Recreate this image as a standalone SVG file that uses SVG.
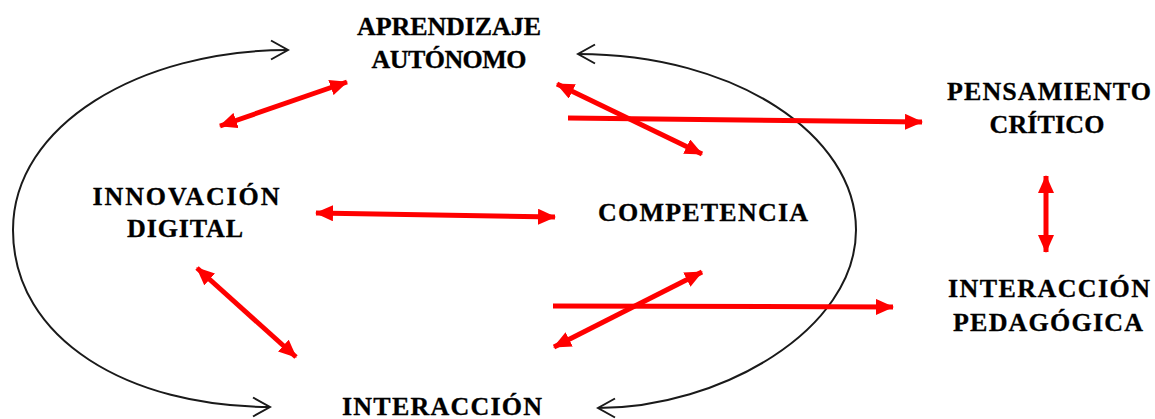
<svg xmlns="http://www.w3.org/2000/svg" width="1155" height="419" viewBox="0 0 1155 419">
<style>
.lbl{font-family:"Liberation Serif","Times New Roman",serif;font-weight:bold;font-size:26px;fill:#000;stroke:#000;stroke-width:0.3;text-anchor:middle}
.blk{fill:none;stroke:#1a1a1a;stroke-width:2}
.red{fill:none;stroke:#ff0000;stroke-width:5}
</style>
<defs>
<marker id="chev" markerUnits="userSpaceOnUse" markerWidth="20" markerHeight="22" refX="18" refY="10.5" orient="auto-start-reverse" viewBox="0 0 20 21">
<path d="M1,1 L18,10.5 L1,20" fill="none" stroke="#1a1a1a" stroke-width="2"/>
</marker>
<marker id="rh" markerUnits="userSpaceOnUse" markerWidth="18" markerHeight="16" refX="17" refY="8" orient="auto-start-reverse" viewBox="0 0 18 16">
<path d="M0,0 L18,8 L0,16 z" fill="#ff0000"/>
</marker>
</defs>
<rect width="1155" height="419" fill="#fff"/>
<g id="connectors">
<path class="blk" d="M288,50 C140,50 13,125 13,230 C13,340 130,407 270,407" marker-start="url(#chev)" marker-end="url(#chev)"/>
<path class="blk" d="M578,54 C735,54 856,135 856,230 C856,330 720,408 598,408" marker-start="url(#chev)" marker-end="url(#chev)"/>
<line class="red" x1="220" y1="126" x2="347" y2="82" marker-start="url(#rh)" marker-end="url(#rh)"/>
<line class="red" x1="557" y1="84" x2="702" y2="154" marker-start="url(#rh)" marker-end="url(#rh)"/>
<line class="red" x1="568" y1="118" x2="922" y2="122" marker-end="url(#rh)"/>
<line class="red" x1="316" y1="213" x2="555" y2="217" marker-start="url(#rh)" marker-end="url(#rh)"/>
<line class="red" x1="197" y1="268" x2="296" y2="357" marker-start="url(#rh)" marker-end="url(#rh)"/>
<line class="red" x1="553" y1="306" x2="893" y2="307" marker-end="url(#rh)"/>
<line class="red" x1="554" y1="347" x2="702" y2="272" marker-start="url(#rh)" marker-end="url(#rh)"/>
<line class="red" x1="1046" y1="176" x2="1046" y2="252" marker-start="url(#rh)" marker-end="url(#rh)"/>
</g>
<g id="node-aprendizaje">
<text class="lbl" x="449" y="35" textLength="184" lengthAdjust="spacing">APRENDIZAJE</text>
<text class="lbl" x="449" y="68" textLength="155" lengthAdjust="spacing">AUTÓNOMO</text>
</g>
<g id="node-innovacion">
<text class="lbl" x="186" y="205" textLength="187" lengthAdjust="spacing">INNOVACIÓN</text>
<text class="lbl" x="185" y="237" textLength="116" lengthAdjust="spacing">DIGITAL</text>
</g>
<g id="node-competencia">
<text class="lbl" x="703" y="221" textLength="210" lengthAdjust="spacing">COMPETENCIA</text>
</g>
<g id="node-pensamiento">
<text class="lbl" x="1049" y="100" textLength="204" lengthAdjust="spacing">PENSAMIENTO</text>
<text class="lbl" x="1047" y="133" textLength="115" lengthAdjust="spacing">CRÍTICO</text>
</g>
<g id="node-interaccion-pedagogica">
<text class="lbl" x="1049" y="297" textLength="202" lengthAdjust="spacing">INTERACCIÓN</text>
<text class="lbl" x="1048" y="331" textLength="190" lengthAdjust="spacing">PEDAGÓGICA</text>
</g>
<g id="node-interaccion">
<text class="lbl" x="442" y="415" textLength="200" lengthAdjust="spacing">INTERACCIÓN</text>
</g>
</svg>
